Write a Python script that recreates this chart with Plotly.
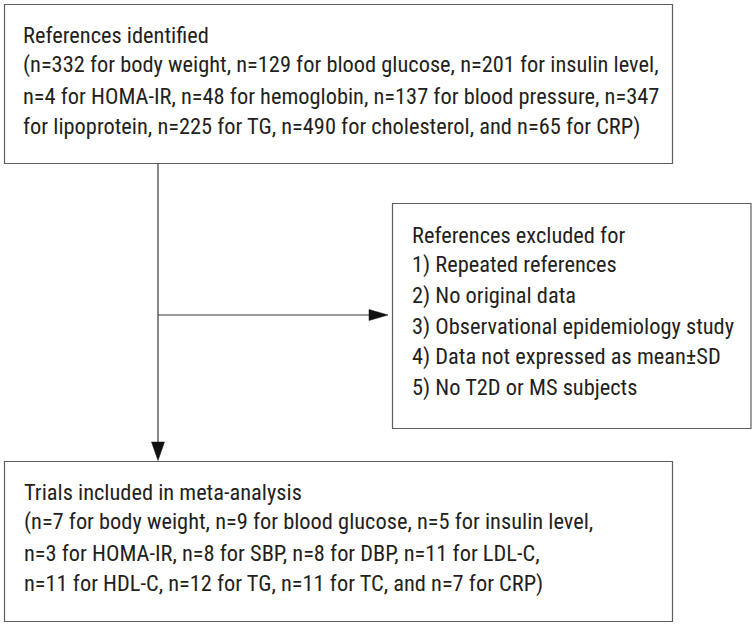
import plotly.graph_objects as go

# ---- content (texts of the flow diagram) ----
identified_lines = [
    "References identified",
    "(n=332 for body weight, n=129 for blood glucose, n=201 for insulin level,",
    "n=4 for HOMA-IR, n=48 for hemoglobin, n=137 for blood pressure, n=347",
    "for lipoprotein, n=225 for TG, n=490 for cholesterol, and n=65 for CRP)",
]
excluded_lines = [
    "References excluded for",
    "1) Repeated references",
    "2) No original data",
    "3) Observational epidemiology study",
    "4) Data not expressed as mean\u00b1SD",
    "5) No T2D or MS subjects",
]
included_lines = [
    "Trials included in meta-analysis",
    "(n=7 for body weight, n=9 for blood glucose, n=5 for insulin level,",
    "n=3 for HOMA-IR, n=8 for SBP, n=8 for DBP, n=11 for LDL-C,",
    "n=11 for HDL-C, n=12 for TG, n=11 for TC, and n=7 for CRP)",
]

# ---- layout geometry (pixels, y downward) ----
W, H = 752, 625
FONT = "Liberation Sans Narrow, Roboto Condensed, Arial Narrow, sans-serif"
FS = 22.4
TXT = "#231f20"
BORDER = "#5e5e5e"
LINEC = "#3a3a3a"
LSP = 30.6
DESC = 0.26 * FS

boxes = {
    "identified": dict(x0=4.5, y0=4.5, x1=672.5, y1=163.5, tx=21.5, base=43, lines=identified_lines),
    "excluded": dict(x0=392.5, y0=203.5, x1=751.0, y1=428.5, tx=410.5, base=243, lines=excluded_lines),
    "included": dict(x0=4.5, y0=461.5, x1=672.5, y1=621.5, tx=22.5, base=500, lines=included_lines),
}

fig = go.Figure()
shapes = []
annotations = []

for b in boxes.values():
    shapes.append(dict(type="rect", xref="x", yref="y", x0=b["x0"], y0=b["y0"], x1=b["x1"], y1=b["y1"],
                       line=dict(color=BORDER, width=1.2), fillcolor="rgba(0,0,0,0)", layer="above"))
    for i, t in enumerate(b["lines"]):
        annotations.append(dict(x=b["tx"], y=b["base"] + i * LSP + DESC, xref="x", yref="y", text=t,
                                showarrow=False, xanchor="left", yanchor="bottom", align="left",
                                font=dict(family=FONT, size=FS, color=TXT), borderpad=0))

vx = 158.0
hy = 315.0
# vertical connector
shapes.append(dict(type="line", xref="x", yref="y", x0=vx, y0=163.5, x1=vx, y1=445,
                   line=dict(color=LINEC, width=1.2)))
# vertical arrowhead
shapes.append(dict(type="path", xref="x", yref="y",
                   path=f"M {vx-6.5} 442 L {vx+6.5} 442 L {vx} 460.5 Z",
                   fillcolor="#111111", line=dict(color="#111111", width=0.5)))
# horizontal connector
shapes.append(dict(type="line", xref="x", yref="y", x0=vx, y0=hy, x1=372, y1=hy,
                   line=dict(color=LINEC, width=1.2)))
shapes.append(dict(type="path", xref="x", yref="y",
                   path=f"M 369 {hy-5.5} L 369 {hy+5.5} L 388 {hy} Z",
                   fillcolor="#111111", line=dict(color="#111111", width=0.5)))

fig.update_layout(
    width=W, height=H,
    margin=dict(l=0, r=0, t=0, b=0),
    paper_bgcolor="white", plot_bgcolor="white",
    xaxis=dict(range=[0, W], visible=False, fixedrange=True),
    yaxis=dict(range=[H, 0], visible=False, fixedrange=True),
    shapes=shapes, annotations=annotations, showlegend=False,
)

fig.write_html("out.html", config={"displayModeBar": False},
               post_script="document.body.style.margin='0';document.body.style.overflow='hidden';")
